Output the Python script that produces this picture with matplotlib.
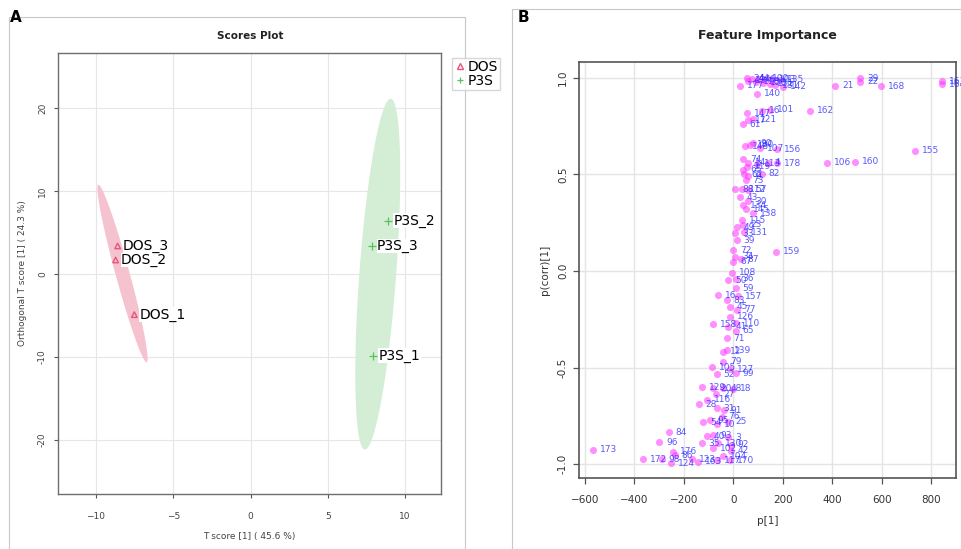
import numpy as np
import matplotlib.pyplot as plt
from matplotlib.patches import Rectangle
from matplotlib.lines import Line2D

# ---- panel A: OPLS-DA scores ----
dos_names = ['DOS_1', 'DOS_2', 'DOS_3']
dos_t = [-7.52, -8.73, -8.60]
dos_o = [-4.90, 1.68, 3.37]
p3s_names = ['P3S_1', 'P3S_2', 'P3S_3']
p3s_t = [7.95, 8.92, 7.84]
p3s_o = [-9.83, 6.40, 3.37]

# ---- panel B: feature importance (p[1] vs p(corr)[1]) ----
feat_p = [54, 74, 100, 128, 155, 189, 60, 90, 120, 150,
          27, 97, 202, 170, 412, 512, 512, 598, 842, 842,
          310, 54, 116, 150, 38, 61, 81,
          47, 67, 81, 108, 175, 734, 377, 493,
          40, 60, 95, 140, 175, 55, 40, 115, 45, 60, 50,
          7, 34, 60, 27, 40, 60, 81, 50, 34, 14, 7, 14, 40, 45,
          173, 0, 7, 0, 30,
          -7, -20, 10, -61, -27, -13, 20, 10, 15,
          -81, -13, -20, 10, -27, 10, -40, -27, -40, -87, -67, -15, 10,
          -125, -81, -40, 0, -70, -107, -139, -67, -38, -47, -121, -94, -67, -20,
          -260, -299, -568, -128, -107, -81, -81, -61, -20, -10, -10,
          -242, -236, -366, -289, -252, -168, -141, -67, -13, -40]
feat_corr = [0.997, 0.995, 0.993, 0.995, 0.993, 0.990, 0.985, 0.980, 0.975, 0.970,
             0.959, 0.916, 0.953, 0.960, 0.959, 0.997, 0.980, 0.957, 0.983, 0.967,
             0.828, 0.816, 0.830, 0.835, 0.759, 0.780, 0.785,
             0.646, 0.652, 0.660, 0.636, 0.631, 0.622, 0.560, 0.564,
             0.578, 0.560, 0.555, 0.560, 0.557, 0.540, 0.525, 0.502, 0.500, 0.490, 0.470,
             0.424, 0.424, 0.420, 0.381, 0.341, 0.360, 0.298, 0.320, 0.263, 0.226, 0.195, 0.160, 0.240, 0.200,
             0.098, 0.108, 0.073, 0.048, 0.060,
             -0.009, -0.047, -0.040, -0.125, -0.151, -0.185, -0.130, -0.090, -0.200,
             -0.276, -0.236, -0.289, -0.270, -0.349, -0.310, -0.418, -0.410, -0.470, -0.499, -0.534, -0.510, -0.530,
             -0.603, -0.608, -0.608, -0.610, -0.639, -0.668, -0.690, -0.711, -0.720, -0.755, -0.784, -0.772, -0.794, -0.780,
             -0.835, -0.887, -0.927, -0.892, -0.855, -0.850, -0.918, -0.892, -0.860, -0.900, -0.930,
             -0.936, -0.953, -0.975, -0.975, -0.996, -0.975, -0.988, -0.979, -0.979, -0.960]
feat_labels = ['24', '44', '46', '100', '103', '135', '13', '118', '150', '151',
               '177', '140', '142', '181', '21', '29', '22', '168', '163', '164',
               '162', '147', '16', '101', '61', '17', '121',
               '148', '180', '90', '107', '156', '155', '106', '160',
               '74', '14', '113', '4', '178', '119', '65', '82', '62', '9', '73',
               '88', '112', '57', '43', '134', '30', '138', '145', '115', '49', '33', '39', '23', '131',
               '159', '72', '34', '67', '87',
               '108', '50', '36', '16', '83', '45', '157', '59', '77',
               '158', '126', '41', '110', '71', '65', '12', '139', '79', '105', '52', '127', '99',
               '129', '20', '48', '18', '27', '116', '28', '31', '91', '76', '54', '95', '10', '25',
               '84', '96', '173', '35', '40', '93', '102', '130', '3', '92', '42',
               '176', '86', '172', '98', '124', '123', '163', '117', '170', '104']


def conf_ellipse(x, y, n=200):
    # 95% normal ellipse from the sample covariance
    x = np.asarray(x); y = np.asarray(y)
    cov = np.cov(x, y)
    vals, vecs = np.linalg.eigh(cov)
    r = np.sqrt(5.991)
    th = np.linspace(0, 2 * np.pi, n)
    circ = np.vstack([np.cos(th), np.sin(th)]) * (r * np.sqrt(vals))[:, None]
    pts = vecs @ circ
    return pts[0] + x.mean(), pts[1] + y.mean()


fig = plt.figure(figsize=(9.61, 5.49), dpi=100)
W, H = 961.0, 549.0

def fx(px):
    return px / W

def fy(py):
    return 1 - py / H

# panel frames
fig.patches.append(Rectangle((fx(9), fy(549)), (465 - 9) / W, (549 - 17) / H,
                             transform=fig.transFigure, fill=False, ec='#c8c8c8', lw=0.8))
fig.patches.append(Rectangle((fx(512), fy(549)), (961 - 512) / W, (549 - 9) / H,
                             transform=fig.transFigure, fill=False, ec='#c8c8c8', lw=0.8))
fig.text(fx(10), fy(18), 'A', fontsize=11, fontweight='bold', va='center', ha='left')
fig.text(fx(518), fy(18), 'B', fontsize=11, fontweight='bold', va='center', ha='left')
fig.text(fx(250), fy(36), 'Scores Plot', fontsize=7.5, fontweight='bold', ha='center', va='center',
         color='#222222')
fig.text(fx(767), fy(36), 'Feature Importance', fontsize=9, fontweight='bold', ha='center',
         va='center', color='#222222')

# ---------------- panel A ----------------
axA = fig.add_axes([fx(58), fy(494), (441 - 58) / W, (494 - 53) / H])
pink = '#e9547a'
green = '#5cbf5c'
ex, ey = conf_ellipse(dos_t, dos_o)
axA.fill(ex, ey, color='#f5c3d0', lw=0, zorder=1)
ex, ey = conf_ellipse(p3s_t, p3s_o)
axA.fill(ex, ey, color='#d3eed5', lw=0, zorder=1)
axA.scatter(dos_t, dos_o, marker='^', s=16, facecolors='none', edgecolors=pink, lw=1.0, zorder=3)
axA.scatter(p3s_t, p3s_o, marker='+', s=28, color=green, lw=0.9, zorder=3)
for n, x, y in zip(dos_names + p3s_names, dos_t + p3s_t, dos_o + p3s_o):
    axA.text(x + 0.35, y, n, fontsize=10, va='center', ha='left', zorder=4,
             bbox=dict(facecolor='white', edgecolor='none', pad=0.3))
axA.set_xlim(-12.46, 12.33)
axA.set_ylim(-26.5, 26.6)
axA.set_xticks([-10, -5, 0, 5, 10])
axA.set_yticks([-20, -10, 0, 10, 20])
axA.set_yticklabels(['-20', '-10', '0', '10', '20'], rotation=90, va='center')
axA.grid(True, color='#e6e6e6', lw=0.8)
axA.set_axisbelow(True)
for s in axA.spines.values():
    s.set_color('#6e6e6e')
    s.set_linewidth(1.0)
axA.tick_params(direction='out', length=3, width=0.8, color='#555555', labelsize=6.5,
                labelcolor='#444444', pad=10)
axA.tick_params(axis='y', pad=5)
axA.set_xlabel('T score [1] ( 45.6 %)', fontsize=6.5, color='#444444', labelpad=8)
axA.set_ylabel('Orthogonal T score [1] ( 24.3 %)', fontsize=6.5, color='#444444', labelpad=8)

handles = [Line2D([], [], marker='^', ls='none', mfc='none', mec=pink, ms=4, mew=1.0),
           Line2D([], [], marker='+', ls='none', color=green, ms=5, mew=0.9)]
fig.legend(handles, ['DOS', 'P3S'], loc='upper left', bbox_to_anchor=(fx(452), fy(58)),
           fontsize=10, frameon=True, fancybox=False, edgecolor='#cfcfcf', borderpad=0.15,
           handlelength=0.8, handletextpad=0.2, labelspacing=0.0, borderaxespad=0)

# ---------------- panel B ----------------
axB = fig.add_axes([fx(579), fy(478), (955.7 - 579) / W, (478 - 62.3) / H])
axB.scatter(feat_p, feat_corr, s=26, color='#ff33ff', alpha=0.55, lw=0, zorder=3)
for x, y, lab in zip(feat_p, feat_corr, feat_labels):
    axB.text(x + 28, y, lab, fontsize=6.5, color='#2222ff', alpha=0.75, va='center', ha='left',
             zorder=4, clip_on=False)
axB.set_xlim(-623, 898)
axB.set_ylim(-1.072, 1.08)
axB.set_xticks([-600, -400, -200, 0, 200, 400, 600, 800])
axB.set_yticks([-1.0, -0.5, 0.0, 0.5, 1.0])
axB.set_yticklabels(['-1.0', '-0.5', '0.0', '0.5', '1.0'], rotation=90, va='center')
axB.grid(True, color='#e4e4e4', lw=1.0)
axB.set_axisbelow(True)
for s in axB.spines.values():
    s.set_color('#555555')
    s.set_linewidth(1.2)
axB.tick_params(direction='out', length=4, width=0.9, color='#555555', labelsize=7.5,
                labelcolor='#333333', pad=8)
axB.tick_params(axis='y', pad=4)
axB.set_xlabel('p[1]', fontsize=7.5, color='#333333', labelpad=8)
axB.set_ylabel('p(corr)[1]', fontsize=7.5, color='#333333', labelpad=6)

fig.savefig('out.png', dpi=100)
